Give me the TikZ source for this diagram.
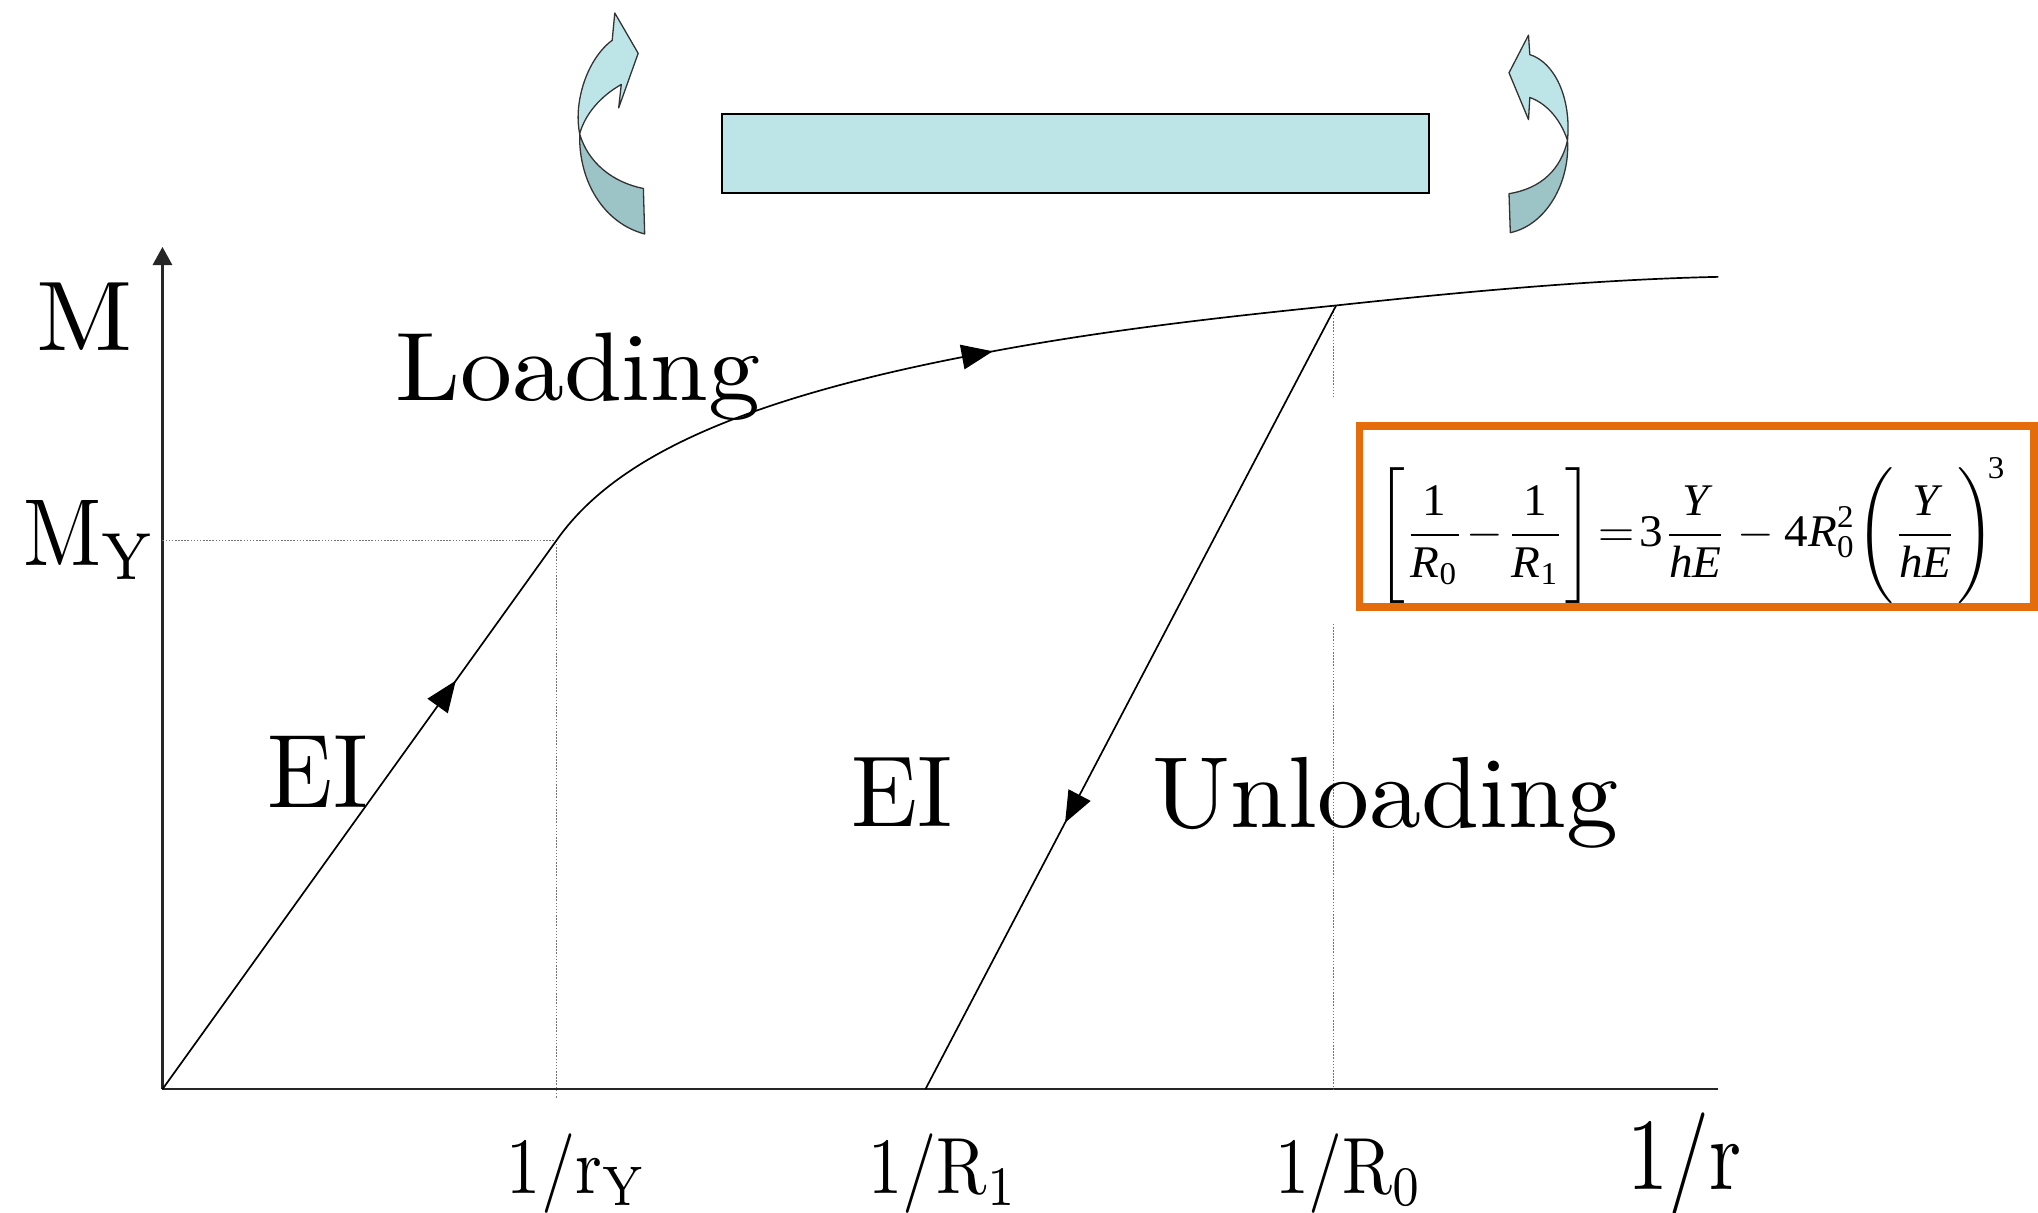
\documentclass[tikz,border=0pt]{standalone}
\usepackage{fontspec}
\usepackage{amsmath}
\usetikzlibrary{arrows.meta,decorations.markings}

% Times-like face for the boxed formula
\newfontfamily\eqfont{Liberation Serif}
\newcommand{\ei}[1]{\text{\eqfont\itshape #1}}
\newcommand{\eu}[1]{\text{\eqfont #1}}
% struts that open up the fractions
\newcommand{\nst}{\rule{0pt}{1.05em}}
\newcommand{\dst}{\rule[-0.4em]{0pt}{0.4em}}

\definecolor{beamfill}{HTML}{BDE5E8}
\definecolor{twistdark}{HTML}{9CC3C6}
\definecolor{boxorange}{HTML}{E46C0A}

\tikzset{
  curve/.style={line width=1.3pt, black},
  axis/.style={line width=1.6pt, black!85},
  guide/.style={black!55, line width=0.9pt, dash pattern=on 1.2pt off 1.2pt},
  lbl/.style={anchor=base west, inner sep=0pt, outer sep=0pt},
  flow/.style={postaction={decorate},
    decoration={markings, mark=at position #1 with {\arrow{Triangle[length=24pt,width=19pt]}}}},
  twistlight/.style={fill=beamfill, draw=black!80, line width=1pt, line join=round},
  twistshade/.style={fill=twistdark, draw=black!80, line width=1pt, line join=round},
}

\begin{document}
\begin{tikzpicture}[x=1pt, y=-1pt]
\useasboundingbox (0,0) rectangle (1568,932.5);

% ---- beam with end moments ----
\node[draw=black, line width=1.3pt, fill=beamfill, minimum width=544pt, minimum height=61pt,
      inner sep=0pt, anchor=north west] (beam) at (555,87) {};

% left twisting arrow
\filldraw[twistlight] (446,103) .. controls (441,78) and (452,45) .. (471,31)
  -- (473,10) -- (491,41) -- (476,83) -- (478,65)
  .. controls (462,74) and (450,88) .. (446,103) -- cycle;
\filldraw[twistshade] (446,103) .. controls (445,140) and (465,172) .. (496,180)
  -- (495,145) .. controls (470,140) and (452,124) .. (446,103) -- cycle;

% right twisting arrow
\filldraw[twistlight] (1161,56) -- (1176,27) -- (1177,42)
  .. controls (1196,48) and (1209,75) .. (1206,108)
  .. controls (1201,93) and (1191,80) .. (1177,75)
  -- (1176,92) -- cycle;
\filldraw[twistshade] (1206,108) .. controls (1208,140) and (1190,173) .. (1162,179)
  -- (1161,149) .. controls (1186,145) and (1201,130) .. (1206,108) -- cycle;

% ---- axes ----
\coordinate (O) at (125,838);
\coordinate (ytop) at (125,190);
\coordinate (xend) at (1322,838);
\draw[axis, -{Triangle[length=14pt,width=15pt]}] (O) -- (ytop);
\draw[axis] (O) -- (xend);

% ---- key points ----
\coordinate (yield) at (428,416);
\coordinate (mid) at (760,271);
\coordinate (peak) at (1028,235);
\coordinate (cend) at (1322,213);
\coordinate (rest) at (712,838);
\coordinate (yfoot) at (428,845);
\coordinate (yaxis) at (125,416);
\coordinate (pgapA) at (1026,305);
\coordinate (pgapB) at (1026,480);
\coordinate (pfoot) at (1026,838);
\coordinate (ptop) at (1026,235);

% guide lines
\draw[guide] (yaxis) -- (yield);
\draw[guide] (yield) -- (yfoot);
\draw[guide] (ptop) -- (pgapA);
\draw[guide] (pgapB) -- (pfoot);

% elastic loading
\draw[curve, flow=0.745] (O) -- (yield);
% plastic loading curve
\draw[curve, flow=0.40] (yield) .. controls (470,356) and (560,308) .. (mid)
  .. controls (850,254) and (940,244) .. (peak)
  .. controls (1130,224) and (1230,215) .. (cend);
% elastic unloading
\draw[curve, flow=0.66] (peak) -- (rest);

% ---- labels ----
\node[lbl] (lM)  at (28,270)  {\resizebox{74pt}{52pt}{M}};
\node[lbl] (lMY) at (18,435)  {\resizebox{102pt}{50pt}{M$_{\mathrm{Y}}$}};
\node[lbl] (lload) at (304,308) {\resizebox{281pt}{52pt}{Loading}};
\node[lbl] (lEIa) at (206,621) {\resizebox{77pt}{55pt}{EI}};
\node[lbl] (lEIb) at (655,636) {\resizebox{78pt}{53pt}{EI}};
\node[lbl] (lunload) at (887,637) {\resizebox{358pt}{54pt}{Unloading}};
\node[lbl] (lrY) at (390,918) {\resizebox{107pt}{46pt}{1/r$_{\mathrm{Y}}$}};
\node[lbl] (lR1) at (668,918) {\resizebox{115pt}{46pt}{1/R$_{1}$}};
\node[lbl] (lR0) at (981,918) {\resizebox{114pt}{46pt}{1/R$_{0}$}};
\node[lbl] (lr)  at (1252,915) {\resizebox{88pt}{59pt}{1/r}};

% ---- boxed formula ----
\draw[boxorange, line width=6pt, fill=white] (1046,328) rectangle (1565,467);
\node[inner sep=0pt] (formula) at (1302,408) {\resizebox*{484pt}{112pt}{$\displaystyle
  \left[\frac{\nst\eu{1}}{\ei{R}_{\eu{0}}\dst}\!-\!\frac{\nst\eu{1}}{\ei{R}_{\eu{1}}\dst}\right]
  \!=\!\eu{3}\frac{\nst\ei{Y}}{\ei{hE}\dst}-\eu{4}\ei{R}_{\eu{0}}^{\eu{2}}
  \!\left(\frac{\nst\ei{Y}}{\ei{hE}\dst}\right)^{\!\eu{3}}$}};

\end{tikzpicture}
\end{document}
